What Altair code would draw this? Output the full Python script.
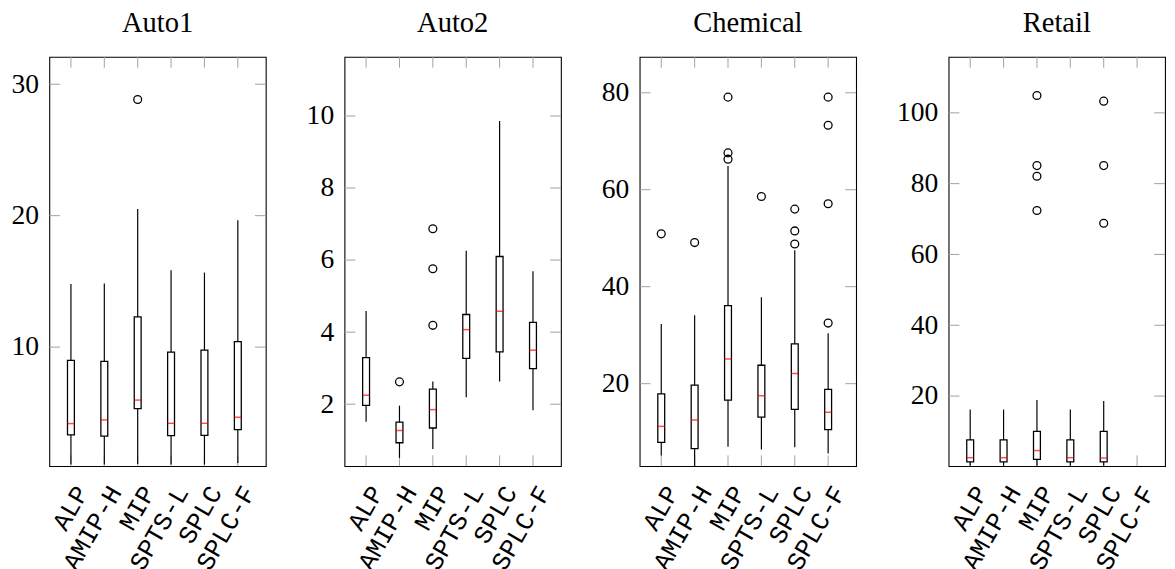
import altair as alt
import pandas as pd

METHODS = ["ALP", "AMIP-H", "MIP", "SPTS-L", "SPLC", "SPLC-F"]

# Auto1
AUTO1_LO = [1.06, 1.06, 1.11, 1.06, 1.06, 1.19]
AUTO1_Q1 = [3.32, 3.22, 5.32, 3.27, 3.29, 3.72]
AUTO1_MED = [4.18, 4.46, 5.97, 4.20, 4.20, 4.66]
AUTO1_Q3 = [8.99, 8.91, 12.30, 9.62, 9.77, 10.41]
AUTO1_HI = [14.81, 14.84, 20.51, 15.85, 15.67, 19.65]
AUTO1_OUT_M = ["MIP"]
AUTO1_OUT_V = [28.84]
AUTO1_YDOM = [0.94, 32.08]
AUTO1_YTICKS = [10, 20, 30]

# Auto2
AUTO2_LO = [1.51, 0.51, 0.76, 2.19, 2.63, 1.83]
AUTO2_Q1 = [1.97, 0.93, 1.34, 3.27, 3.45, 2.99]
AUTO2_MED = [2.25, 1.27, 1.85, 4.07, 4.58, 3.50]
AUTO2_Q3 = [3.29, 1.50, 2.42, 4.49, 6.10, 4.27]
AUTO2_HI = [4.59, 1.96, 2.63, 6.26, 9.86, 5.69]
AUTO2_OUT_M = ["AMIP-H", "MIP", "MIP", "MIP"]
AUTO2_OUT_V = [2.62, 6.87, 5.76, 4.19]
AUTO2_YDOM = [0.28, 11.64]
AUTO2_YTICKS = [2, 4, 6, 8, 10]

# Chemical
CHEM_LO = [5.2, 3.0, 7.0, 6.4, 6.9, 5.6]
CHEM_Q1 = [7.9, 6.6, 16.6, 13.1, 14.7, 10.5]
CHEM_MED = [11.2, 12.5, 25.1, 17.5, 22.1, 14.1]
CHEM_Q3 = [17.9, 19.7, 36.1, 23.8, 28.2, 18.8]
CHEM_HI = [32.3, 34.1, 64.9, 37.8, 47.5, 30.4]
CHEM_OUT_M = ["ALP", "AMIP-H", "MIP", "MIP", "MIP", "SPTS-L", "SPLC", "SPLC", "SPLC",
              "SPLC-F", "SPLC-F", "SPLC-F", "SPLC-F"]
CHEM_OUT_V = [50.9, 49.1, 79.1, 67.6, 66.3, 58.6, 56.0, 51.5, 48.8, 79.1, 73.3, 57.1, 32.5]
CHEM_YDOM = [2.98, 87.4]
CHEM_YTICKS = [20, 40, 60, 80]

# Retail (no SPLC-F data)
RET_LO = [0.3, 0.3, 0.3, 0.3, 0.3]
RET_Q1 = [1.4, 1.4, 2.1, 1.4, 1.4]
RET_MED = [2.6, 2.6, 4.6, 2.6, 2.5]
RET_Q3 = [7.6, 7.6, 10.0, 7.6, 10.0]
RET_HI = [16.2, 16.2, 18.9, 16.2, 18.6]
RET_OUT_M = ["MIP", "MIP", "MIP", "MIP", "SPLC", "SPLC", "SPLC"]
RET_OUT_V = [104.9, 85.1, 82.1, 72.4, 103.3, 85.1, 68.8]
RET_YDOM = [0.2, 115.8]
RET_YTICKS = [20, 40, 60, 80, 100]

W, H = 220, 416
TICK_LEN = 11
TICK_COLOR = "#a0a0a0"
XDOM = [0.5, 6.69]
label_expr = "[" + ",".join("'%s'" % m for m in METHODS) + "][datum.value - 1]"


def panel(name, lo, q1, med, q3, hi, out_m, out_v, ydom, yticks):
    n = len(lo)
    df = pd.DataFrame({"pos": list(range(1, n + 1)), "lo": lo, "q1": q1,
                       "med": med, "q3": q3, "hi": hi})
    odf = pd.DataFrame({"pos": [METHODS.index(m) + 1 for m in out_m], "v": out_v})
    ytdf = pd.DataFrame({"v": yticks})
    xtdf = pd.DataFrame({"pos": list(range(1, len(METHODS) + 1))})

    xs = alt.Scale(domain=XDOM, nice=False, zero=False)
    ys = alt.Scale(domain=ydom, nice=False, zero=False)

    xaxis = alt.Axis(values=list(range(1, len(METHODS) + 1)), labelExpr=label_expr,
                     labelAngle=300, labelAlign="right", labelBaseline="middle",
                     labelOffset=11, labelPadding=22, ticks=False, tickSize=0,
                     domain=False, grid=False, title=None, labelFont="Liberation Mono",
                     labelFontSize=26, labelColor="black", labelOverlap=False,
                     labelFlush=False, labelBound=False)
    yaxis = alt.Axis(values=yticks, ticks=False, tickSize=0, domain=False, grid=False,
                     title=None, labelFont="Liberation Serif", labelFontSize=28,
                     labelColor="black", labelPadding=11, labelOverlap=False,
                     labelFlush=False, format="d")

    def X(f):
        return alt.X(f, type="quantitative", scale=xs, axis=xaxis)

    def Y(f):
        return alt.Y(f, type="quantitative", scale=ys, axis=yaxis)

    ytl = alt.Chart(ytdf).mark_rule(color=TICK_COLOR, strokeWidth=1).encode(
        y=Y("v"), x=alt.value(0), x2=alt.value(TICK_LEN))
    ytr = alt.Chart(ytdf).mark_rule(color=TICK_COLOR, strokeWidth=1).encode(
        y=Y("v"), x=alt.value(W - TICK_LEN), x2=alt.value(W))
    xtt = alt.Chart(xtdf).mark_rule(color=TICK_COLOR, strokeWidth=1).encode(
        x=X("pos"), y=alt.value(0), y2=alt.value(TICK_LEN))
    xtb = alt.Chart(xtdf).mark_rule(color=TICK_COLOR, strokeWidth=1).encode(
        x=X("pos"), y=alt.value(H - TICK_LEN), y2=alt.value(H))

    whisk = alt.Chart(df).mark_rule(color="black", strokeWidth=1.2).encode(
        x=X("pos"), y=Y("lo"), y2="hi:Q")
    box = alt.Chart(df).mark_bar(size=7, fill="white", stroke="black",
                                 strokeWidth=1.3).encode(
        x=X("pos"), y=Y("q1"), y2="q3:Q")
    medm = alt.Chart(df).mark_tick(color="#ff0000", size=7, thickness=1.5,
                                   orient="horizontal").encode(
        x=X("pos"), y=Y("med"))
    outm = alt.Chart(odf).mark_point(shape="circle", filled=False, color="black",
                                     size=64, strokeWidth=1.3, opacity=1).encode(
        x=X("pos"), y=Y("v"))

    return alt.layer(ytl, ytr, xtt, xtb, whisk, box, medm, outm).properties(
        width=W, height=H,
        title=alt.TitleParams(text=name, font="Liberation Serif", fontSize=29,
                              fontWeight="normal", anchor="middle",
                              baseline="bottom", offset=-10, color="black"))


chart = alt.hconcat(
    panel("Auto1", AUTO1_LO, AUTO1_Q1, AUTO1_MED, AUTO1_Q3, AUTO1_HI,
          AUTO1_OUT_M, AUTO1_OUT_V, AUTO1_YDOM, AUTO1_YTICKS),
    panel("Auto2", AUTO2_LO, AUTO2_Q1, AUTO2_MED, AUTO2_Q3, AUTO2_HI,
          AUTO2_OUT_M, AUTO2_OUT_V, AUTO2_YDOM, AUTO2_YTICKS),
    panel("Chemical", CHEM_LO, CHEM_Q1, CHEM_MED, CHEM_Q3, CHEM_HI,
          CHEM_OUT_M, CHEM_OUT_V, CHEM_YDOM, CHEM_YTICKS),
    panel("Retail", RET_LO, RET_Q1, RET_MED, RET_Q3, RET_HI,
          RET_OUT_M, RET_OUT_V, RET_YDOM, RET_YTICKS),
    spacing=38,
).properties(
    padding={"left": 2, "top": -5, "right": 0, "bottom": 0},
    background="white",
).configure_view(
    stroke="black", strokeWidth=1.1
)

chart.save("out.html", embed_options={"renderer": "svg", "actions": False})
